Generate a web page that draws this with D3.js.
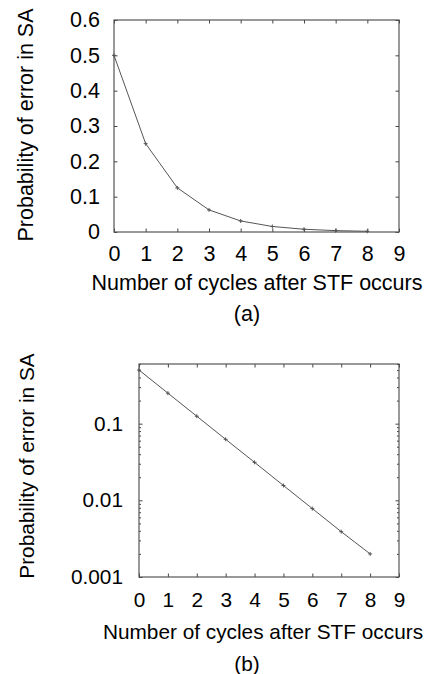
<!DOCTYPE html>
<html>
<head>
<meta charset="utf-8">
<script src="https://cdn.jsdelivr.net/npm/d3@7"></script>
<style>
  body { margin: 0; background: #fff; }
  svg { display: block; }
  text { font-family: "Liberation Sans", Arial, Helvetica, sans-serif; fill: #000; }
</style>
</head>
<body>
<div id="wrapper"></div>
<script>
// Data
const cycles = [0, 1, 2, 3, 4, 5, 6, 7, 8];
const errorProb = [0.5, 0.25, 0.125, 0.0625, 0.0313, 0.0156, 0.0078, 0.0039, 0.002];
const xTicks = [0, 1, 2, 3, 4, 5, 6, 7, 8, 9];
const yTicksLinear = [0, 0.1, 0.2, 0.3, 0.4, 0.5, 0.6];
const yTicksLog = [0.001, 0.01, 0.1];
const yTitle = "Probability of error in SA";
const xTitle = "Number of cycles after STF occurs";

const svg = d3
  .select("#wrapper")
  .append("svg")
  .attr("width", 440)
  .attr("height", 674);

function drawPanel(cfg) {
  const g = svg.append("g");
  const fs = cfg.fontSize;

  const xScale = d3.scaleLinear().domain([0, 9]).range([cfg.left, cfg.right]);
  const yScale = cfg.log
    ? d3.scaleLog().domain([0.001, 0.6]).range([cfg.bottom, cfg.top])
    : d3.scaleLinear().domain([0, 0.6]).range([cfg.bottom, cfg.top]);

  const stroke = "#444";

  // ticks (inward, mirrored like gnuplot)
  const yTicks = cfg.log ? yTicksLog : yTicksLinear;
  const leftAxis = g
    .append("g")
    .attr("transform", `translate(${cfg.left},0)`)
    .call(
      d3.axisLeft(yScale)
        .tickValues(yTicks)
        .tickSizeInner(-3.5)
        .tickSizeOuter(0)
        .tickPadding(cfg.yPad)
        .tickFormat((d) => (cfg.log ? String(d) : d === 0 ? "0" : d3.format(".1f")(d)))
    );
  const rightAxis = g
    .append("g")
    .attr("transform", `translate(${cfg.right},0)`)
    .call(d3.axisRight(yScale).tickValues(yTicks).tickSizeInner(-3.5).tickSizeOuter(0).tickFormat(""));
  const bottomAxis = g
    .append("g")
    .attr("transform", `translate(0,${cfg.bottom})`)
    .call(
      d3.axisBottom(xScale)
        .tickValues(xTicks)
        .tickSizeInner(-3.5)
        .tickSizeOuter(0)
        .tickPadding(cfg.xPad)
    );
  const topAxis = g
    .append("g")
    .attr("transform", `translate(0,${cfg.top})`)
    .call(d3.axisTop(xScale).tickValues(xTicks).tickSizeInner(-3.5).tickSizeOuter(0).tickFormat(""));

  if (cfg.log) {
    const minor = [];
    yScale.ticks().forEach((t) => {
      if (!yTicksLog.some((m) => Math.abs(m - t) < 1e-9)) minor.push(t);
    });
    g.append("g")
      .attr("transform", `translate(${cfg.left},0)`)
      .call(d3.axisLeft(yScale).tickValues(minor).tickSizeInner(-2).tickSizeOuter(0).tickFormat(""));
    g.append("g")
      .attr("transform", `translate(${cfg.right},0)`)
      .call(d3.axisRight(yScale).tickValues(minor).tickSizeInner(-2).tickSizeOuter(0).tickFormat(""));
  }

  g.selectAll(".domain").remove();
  g.selectAll(".tick line").attr("stroke", stroke);
  g.selectAll(".tick text")
    .style("font-size", fs + "px")
    .style("font-family", '"Liberation Sans", Arial, sans-serif')
    .attr("fill", "#000");

  // frame
  g.append("rect")
    .attr("x", cfg.left)
    .attr("y", cfg.top)
    .attr("width", cfg.right - cfg.left)
    .attr("height", cfg.bottom - cfg.top)
    .attr("fill", "none")
    .attr("stroke", "#555")
    .attr("stroke-width", 1.2);

  // line
  const line = d3
    .line()
    .x((d, i) => xScale(cycles[i]))
    .y((d) => yScale(d));
  g.append("path")
    .datum(errorProb)
    .attr("d", line)
    .attr("fill", "none")
    .attr("stroke", "#555")
    .attr("stroke-width", 1);

  g.selectAll(".pt")
    .data(errorProb)
    .enter()
    .append("path")
    .attr("class", "pt")
    .attr("transform", (d, i) => `translate(${xScale(cycles[i])},${yScale(d)})`)
    .attr("d", "M-2,0H2M0,-2V2")
    .attr("stroke", "#555")
    .attr("stroke-width", 1);

  // titles
  g.append("text")
    .attr("transform", `translate(${cfg.yTitleX},${cfg.yTitleY}) rotate(-90)`)
    .attr("text-anchor", "middle")
    .style("font-size", fs + "px")
    .text(yTitle);

  g.append("text")
    .attr("x", cfg.xTitleX)
    .attr("y", cfg.xTitleY)
    .attr("text-anchor", "middle")
    .style("font-size", fs + "px")
    .text(xTitle);

  g.append("text")
    .attr("x", cfg.captionX)
    .attr("y", cfg.captionY)
    .attr("text-anchor", "middle")
    .style("font-size", fs + "px")
    .text(cfg.caption);
}

drawPanel({
  log: false,
  left: 114, right: 399, top: 20, bottom: 232,
  fontSize: 21.5,
  yPad: 14, xPad: 14,
  yTitleX: 33, yTitleY: 125,
  xTitleX: 257, xTitleY: 290,
  captionX: 247, captionY: 321,
  caption: "(a)",
});

drawPanel({
  log: true,
  left: 139, right: 399, top: 364, bottom: 577,
  fontSize: 20.8,
  yPad: 16, xPad: 15,
  yTitleX: 34, yTitleY: 466,
  xTitleX: 263, xTitleY: 639,
  captionX: 247, captionY: 671,
  caption: "(b)",
});
</script>
</body>
</html>
